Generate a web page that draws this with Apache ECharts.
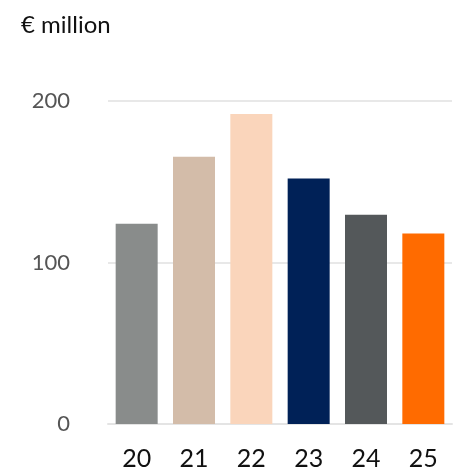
<!DOCTYPE html>
<html>
<head>
<meta charset="utf-8">
<script src="https://cdn.jsdelivr.net/npm/echarts@6/dist/echarts.min.js"></script>
<style>
  html, body { margin: 0; padding: 0; background: #fff; }
  #chart { width: 454px; height: 472px; }
</style>
</head>
<body>
<div id="chart"></div>
<script>
const years = ['20', '21', '22', '23', '24', '25']
const values = [124, 165.5, 192, 152, 129.5, 118]
const barColors = ['#898c8b', '#d3bca9', '#fad5bb', '#002157', '#54585a', '#ff6b00']
const unitLabel = '€ million'

const chart = echarts.init(document.getElementById('chart'))
const font = 'Lato, "Noto Sans", sans-serif'

chart.setOption({
  backgroundColor: '#fff',
  animation: false,
  title: {
    text: unitLabel,
    left: 16,
    top: 8,
    textStyle: { fontFamily: font, fontSize: 24, fontWeight: 'normal', color: '#111' },
  },
  grid: { left: 108, right: 2, top: 101, bottom: 48 },
  xAxis: {
    type: 'category',
    data: years,
    axisTick: { show: false },
    axisLine: { lineStyle: { color: '#e4e4e4', width: 2 } },
    axisLabel: { color: '#111', fontSize: 25, fontFamily: font, margin: 22 },
  },
  yAxis: {
    type: 'value',
    min: 0,
    max: 200,
    interval: 100,
    axisLine: { show: false },
    axisTick: { show: false },
    axisLabel: { color: '#555', fontSize: 22, fontFamily: font, margin: 38 },
    splitLine: { lineStyle: { color: '#e8e8e8', width: 2 } },
  },
  series: [
    {
      type: 'bar',
      barWidth: 42,
      data: values.map((v, i) => ({ value: v, itemStyle: { color: barColors[i] } })),
    },
  ],
})
</script>
</body>
</html>
